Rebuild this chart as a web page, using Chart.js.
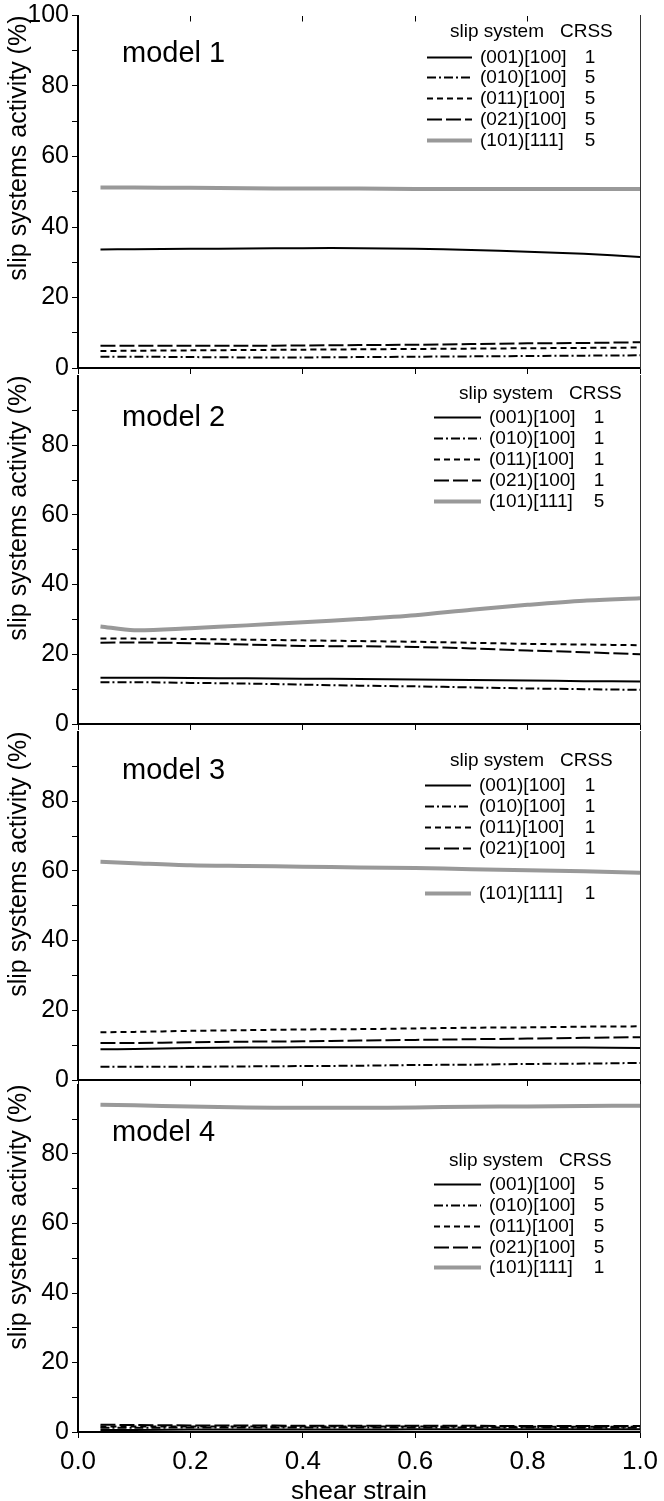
<!DOCTYPE html>
<html>
<head>
<meta charset="utf-8">
<script src="https://cdn.jsdelivr.net/npm/chart.js@4.4.1/dist/chart.umd.min.js"></script>
<style>
  html, body { margin: 0; padding: 0; background: #fff; overflow: hidden; }
  body { width: 664px; height: 1501px; position: relative; }
  canvas { position: absolute; left: 0; }
</style>
</head>
<body>
<canvas id="p1" width="664" height="384" style="top:0px"></canvas>
<canvas id="p2" width="664" height="380" style="top:360px"></canvas>
<canvas id="p3" width="664" height="380" style="top:716px"></canvas>
<canvas id="p4" width="664" height="436" style="top:1069px"></canvas>
<script>
// --- data ---
const strain = [0.04, 0.1, 0.2, 0.3, 0.4, 0.5, 0.6, 0.7, 0.8, 0.9, 1.0];
const systems = ['(001)[100]', '(010)[100]', '(011)[100]', '(021)[100]', '(101)[111]'];

// model 1
const m1_001 = [33.6, 33.7, 33.8, 33.9, 34.0, 34.0, 33.8, 33.5, 33.0, 32.4, 31.5];
const m1_010 = [3.2, 3.2, 3.1, 3.0, 3.0, 3.1, 3.2, 3.3, 3.4, 3.5, 3.6];
const m1_011 = [4.8, 4.9, 5.0, 5.1, 5.2, 5.3, 5.4, 5.5, 5.6, 5.7, 5.8];
const m1_021 = [6.3, 6.3, 6.3, 6.3, 6.4, 6.5, 6.6, 6.8, 7.0, 7.1, 7.3];
const m1_101 = [51.2, 51.2, 51.1, 51.0, 50.9, 50.9, 50.8, 50.8, 50.8, 50.8, 50.8];
const crss1 = [1, 5, 5, 5, 5];

// model 2
const m2_001 = [13.3, 13.3, 13.2, 13.1, 13.0, 12.9, 12.8, 12.6, 12.5, 12.3, 12.2];
const m2_010 = [12.0, 12.0, 11.8, 11.6, 11.3, 11.0, 10.8, 10.5, 10.2, 10.0, 9.8];
const m2_011 = [24.5, 24.5, 24.4, 24.2, 24.0, 23.8, 23.6, 23.3, 23.0, 22.8, 22.6];
const m2_021 = [23.3, 23.4, 23.2, 22.8, 22.4, 22.3, 22.1, 21.7, 21.1, 20.6, 20.0];
const m2_101 = [28.0, 26.9, 27.5, 28.3, 29.2, 30.1, 31.2, 32.8, 34.2, 35.4, 36.1];
const crss2 = [1, 1, 1, 1, 5];

// model 3
const m3_001 = [8.8, 8.9, 9.2, 9.3, 9.4, 9.4, 9.4, 9.4, 9.3, 9.3, 9.2];
const m3_010 = [3.8, 3.8, 3.8, 3.9, 4.0, 4.1, 4.3, 4.4, 4.6, 4.7, 4.9];
const m3_011 = [13.7, 13.8, 14.1, 14.3, 14.5, 14.6, 14.8, 15.0, 15.1, 15.3, 15.4];
const m3_021 = [10.6, 10.6, 10.8, 11.0, 11.1, 11.3, 11.5, 11.7, 11.9, 12.1, 12.3];
const m3_101 = [62.6, 62.2, 61.6, 61.4, 61.2, 61.0, 60.8, 60.5, 60.2, 59.9, 59.5];
const crss3 = [1, 1, 1, 1, 1];

// model 4
const m4_001 = [0.6, 0.6, 0.7, 0.7, 0.7, 0.7, 0.8, 0.8, 0.8, 0.8, 0.8];
const m4_010 = [1.2, 1.2, 1.3, 1.3, 1.3, 1.3, 1.3, 1.3, 1.3, 1.2, 1.2];
const m4_011 = [1.6, 1.6, 1.6, 1.6, 1.6, 1.6, 1.6, 1.6, 1.5, 1.5, 1.5];
const m4_021 = [2.1, 2.0, 1.9, 1.9, 1.8, 1.8, 1.8, 1.8, 1.7, 1.7, 1.7];
const m4_101 = [94.2, 94.0, 93.7, 93.4, 93.3, 93.3, 93.4, 93.6, 93.7, 93.8, 93.9];
const crss4 = [5, 5, 5, 5, 1];

// --- styles ---
const FONT = "'Liberation Sans', Arial, Helvetica, sans-serif";
const lineStyles = [
    { color: '#000', width: 2, dash: [] },
    { color: '#000', width: 2, dash: [9, 3, 2, 3] },
    { color: '#000', width: 2, dash: [6, 4] },
    { color: '#000', width: 2, dash: [15, 4] },
    { color: '#999', width: 4, dash: [] }
];

// model label + "slip system / CRSS" legend drawn inside the plot
const slipLegend = {
    id: 'slipLegend',
    afterDatasetsDraw(chart, args, opts) {
        const ctx = chart.ctx;
        const top = chart.chartArea.top;
        ctx.save();
        ctx.fillStyle = '#000';
        ctx.textBaseline = 'middle';
        ctx.textAlign = 'left';
        ctx.font = '29px ' + FONT;
        ctx.fillText(opts.model, opts.modelX, top + opts.modelY);

        ctx.font = '19px ' + FONT;
        ctx.fillText('slip system', opts.headX, top + opts.rows[0]);
        ctx.fillText('CRSS', opts.crssX, top + opts.rows[0]);

        chart.data.datasets.forEach(function (ds, i) {
            const y = top + opts.rows[i + 1];
            ctx.strokeStyle = ds.borderColor;
            ctx.lineWidth = ds.borderWidth;
            ctx.setLineDash(ds.borderDash || []);
            ctx.beginPath();
            ctx.moveTo(opts.lineX[0], y);
            ctx.lineTo(opts.lineX[1], y);
            ctx.stroke();
            ctx.setLineDash([]);
            ctx.textAlign = 'left';
            ctx.fillText(ds.label, opts.textX, y);
            ctx.textAlign = 'center';
            ctx.fillText(String(opts.crss[i]), opts.valX, y);
        });
        ctx.restore();
    }
};

function makePanel(id, series, cfg) {
    const scales = {
        x: {
            type: 'linear', min: 0, max: 1, position: 'bottom',
            ticks: {
                display: cfg.last, stepSize: 0.2, autoSkip: false, maxRotation: 0,
                padding: 11, color: '#000',
                font: { family: FONT, size: 26, lineHeight: 1 },
                callback: function (v) { return v.toFixed(1); }
            },
            grid: { drawOnChartArea: false, tickLength: 6, color: '#000', lineWidth: 1 },
            border: { color: '#000', width: 2 },
            title: {
                display: cfg.last, text: 'shear strain', color: '#000',
                font: { family: FONT, size: 26, lineHeight: 1 },
                padding: { top: 0, bottom: 0 }
            },
            afterFit: function (s) {
                s.height = cfg.xHeight;
                // keep the plot edges fixed; the end labels may overhang
                s.paddingLeft = 0;
                s.paddingRight = 0;
            }
        },
        y: {
            min: 0, max: 100,
            ticks: {
                stepSize: 10, autoSkip: false, padding: 3, color: '#000',
                font: { family: FONT, size: 25, lineHeight: 1 },
                callback: function (v) { return v % 20 === 0 ? String(v) : ''; }
            },
            afterBuildTicks: function (s) {
                if (!cfg.showTop) s.ticks = s.ticks.filter(function (t) { return t.value < 100; });
            },
            grid: { drawOnChartArea: false, tickLength: 6, color: '#000', lineWidth: 1 },
            border: { color: '#000', width: 2 },
            title: {
                display: true, text: 'slip systems activity (%)', align: 'end', color: '#000',
                font: { family: FONT, size: 25, lineHeight: 1 },
                padding: { top: 7, bottom: 0 }
            },
            afterFit: function (s) { s.width = 78; }
        },
        yr: {
            position: 'right', min: 0, max: 100,
            ticks: { display: false },
            grid: { drawOnChartArea: false, drawTicks: false },
            border: { color: '#333', width: 1 },
            afterFit: function (s) { s.width = 0; }
        }
    };
    if (cfg.topTicks) {
        scales.xt = {
            type: 'linear', position: 'top', min: 0, max: 1,
            ticks: { display: false, stepSize: 0.2 },
            grid: { drawOnChartArea: false, tickLength: -6, color: '#000', lineWidth: 1 },
            border: { display: false },
            afterFit: function (s) { s.height = 0; }
        };
    }

    new Chart(document.getElementById(id), {
        type: 'line',
        data: {
            datasets: systems.map(function (name, i) {
                return {
                    label: name,
                    data: strain.map(function (x, j) { return { x: x, y: series[i][j] }; }),
                    borderColor: lineStyles[i].color,
                    borderWidth: lineStyles[i].width,
                    borderDash: lineStyles[i].dash,
                    pointRadius: 0,
                    tension: 0.3,
                    fill: false
                };
            })
        },
        options: {
            responsive: false,
            animation: false,
            events: [],
            layout: { padding: { top: cfg.padTop, left: 0, right: 24, bottom: 0 } },
            plugins: {
                legend: { display: false },
                tooltip: { enabled: false },
                slipLegend: cfg.legend
            },
            scales: scales
        },
        plugins: [slipLegend]
    });
}

makePanel('p1', [m1_001, m1_010, m1_011, m1_021, m1_101], {
    padTop: 15, xHeight: 16, showTop: true, topTicks: true, last: false,
    legend: { model: 'model 1', modelX: 122, modelY: 38, rows: [16.5, 42, 62, 83, 104, 125],
              headX: 450, crssX: 560, lineX: [427, 472], textX: 480, valX: 590, crss: crss1 }
});
makePanel('p2', [m2_001, m2_010, m2_011, m2_021, m2_101], {
    padTop: 10, xHeight: 16, showTop: false, topTicks: false, last: false,
    legend: { model: 'model 2', modelX: 122, modelY: 42, rows: [18, 42, 63, 84, 105, 126],
              headX: 459, crssX: 569, lineX: [434, 481], textX: 489, valX: 599, crss: crss2 }
});
makePanel('p3', [m3_001, m3_010, m3_011, m3_021, m3_101], {
    padTop: 10, xHeight: 16, showTop: false, topTicks: false, last: false,
    legend: { model: 'model 3', modelX: 122, modelY: 39, rows: [29, 54, 75, 96, 117, 162],
              headX: 450, crssX: 560, lineX: [425, 471], textX: 479, valX: 590, crss: crss3 }
});
makePanel('p4', [m4_001, m4_010, m4_011, m4_021, m4_101], {
    padTop: 10, xHeight: 73, showTop: false, topTicks: false, last: true,
    legend: { model: 'model 4', modelX: 112, modelY: 48, rows: [76, 100, 121, 142, 163, 183],
              headX: 449, crssX: 559, lineX: [434, 481], textX: 489, valX: 599, crss: crss4 }
});
</script>
</body>
</html>
